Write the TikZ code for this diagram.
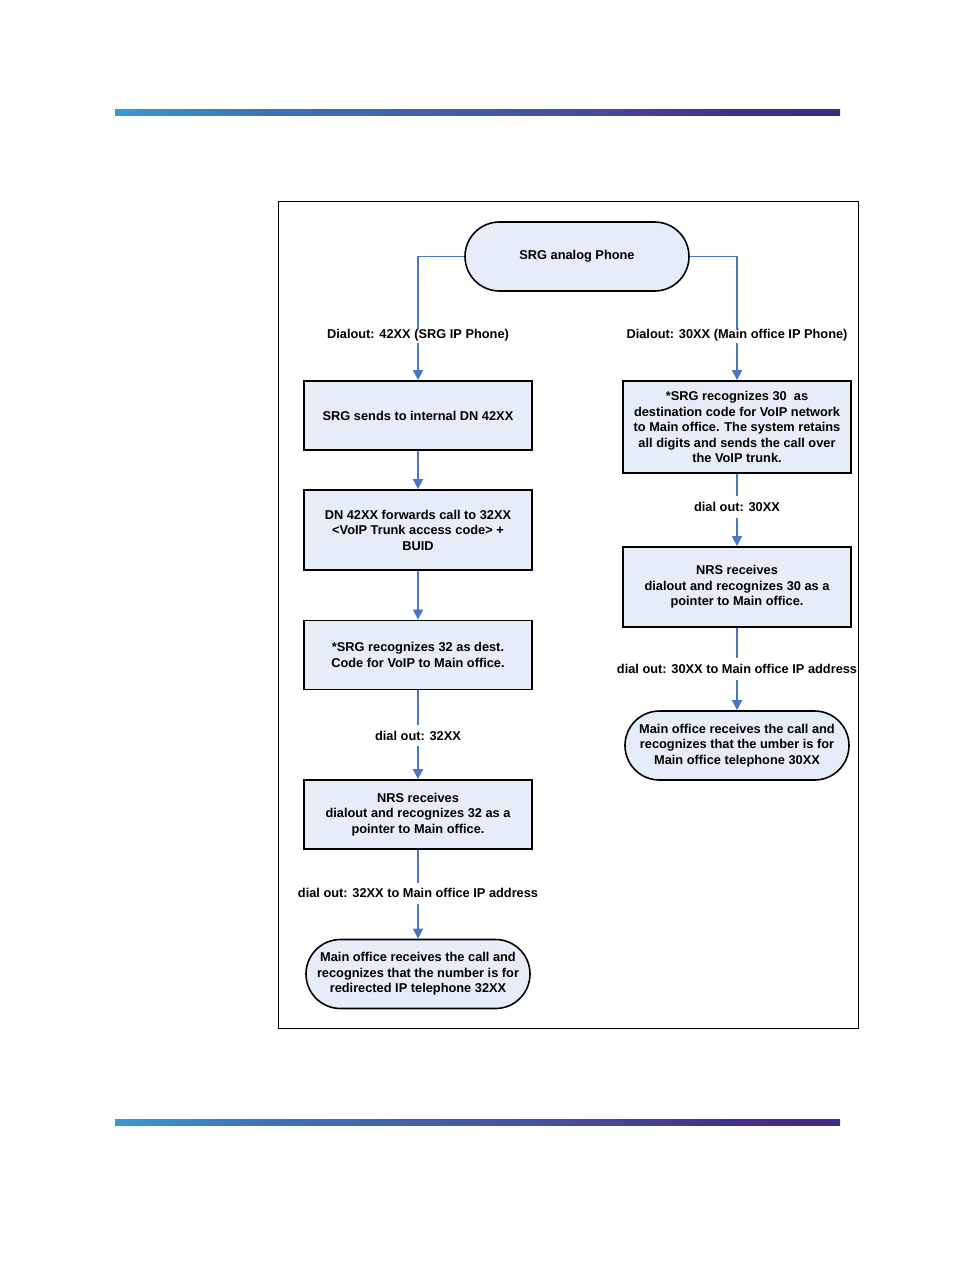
\documentclass[tikz,border=0pt]{standalone}
\usepackage{fontspec}
\setmainfont{Liberation Sans}
\usepackage{tikz}
\usetikzlibrary{arrows.meta,positioning,shapes.misc}
\definecolor{boxfill}{HTML}{E6ECF8}
\definecolor{flowblue}{HTML}{4A78C0}
\pgfdeclarehorizontalshading{kopfbalken}{100bp}{%
  color(0bp)=(rgb,255:red,95;green,190;blue,235);
  color(20bp)=(rgb,255:red,50;green,175;blue,225);
  color(35bp)=(rgb,255:red,60;green,115;blue,185);
  color(55bp)=(rgb,255:red,72;green,80;blue,160);
  color(68bp)=(rgb,255:red,68;green,45;blue,140);
  color(100bp)=(rgb,255:red,55;green,32;blue,100)}

\begin{document}
\begin{tikzpicture}[x=1pt, y=-1pt,
      every node/.style={font=\fontsize{12.8}{15.5}\selectfont\bfseries},
      procbox/.style={draw, line width=1.8pt, fill=boxfill, minimum width=228pt,
        minimum height=69pt, align=center, inner sep=2pt},
      termbox/.style={rounded rectangle, draw, line width=1.6pt, fill=boxfill,
        minimum width=228pt, minimum height=69pt, align=center, inner sep=2pt},
      flow/.style={draw=flowblue, line width=1.8pt, -{Triangle[width=10pt,length=10pt]}},
      lbl/.style={fill=white, inner xsep=1pt, inner ysep=6pt}
    ]
  \useasboundingbox (0,0) rectangle (954,1272);

  % --- Balken oben und unten ---
  \shade[shading=kopfbalken] (115,109) rectangle (840,115);
  \shade[shading=kopfbalken] (115,1119) rectangle (840,1125);

  % --- Rahmen ---
  \draw[line width=0.8pt] (278,201) rectangle (858,1028);

  % --- Start ---
  \node (start) [termbox] at (577,256.5) {SRG analog Phone};

  % --- Linke Spalte: 42XX ---
  \node (sendDN)  [procbox] at (418,415.5) {SRG sends to internal DN 42XX};
  \node (fwdDN)   [procbox, minimum height=80pt] at (418,530) {DN 42XX forwards call to 32XX\\\textless VoIP Trunk access code\textgreater\ +\\BUID};
  \node (recL)    [procbox] at (418,655) {*SRG recognizes 32 as dest.\\Code for VoIP to Main office.};
  \node (nrsL)    [procbox] at (418,814.5) {NRS receives\\dialout and recognizes 32 as a\\pointer to Main office.};
  \node (endL)    [termbox] at (418,974) {Main office receives the call and\\recognizes that the number is for\\redirected IP telephone 32XX};

  % --- Rechte Spalte: 30XX ---
  \node (recR)    [procbox, minimum height=92pt] at (737,427) {*SRG recognizes 30\ \ as\\destination code for VoIP network\\to Main office. The system retains\\all digits and sends the call over\\the VoIP trunk.};
  \node (nrsR)    [procbox, minimum height=80pt] at (737,587) {NRS receives\\dialout and recognizes 30 as a\\pointer to Main office.};
  \node (endR)    [termbox] at (737,745.5) {Main office receives the call and\\recognizes that the umber is for\\Main office telephone 30XX};

  % --- Verbindungen ---
  \draw[flow] (start.west) -| (sendDN.north);
  \draw[flow] (start.east) -| (recR.north);
  \draw[flow] (sendDN) -- (fwdDN);
  \draw[flow] (fwdDN) -- (recL);
  \draw[flow] (recL) -- (nrsL);
  \draw[flow] (nrsL) -- (endL);
  \draw[flow] (recR) -- (nrsR);
  \draw[flow] (nrsR) -- (endR);

  % Beschriftungen ueber den Pfeilen
  \path (start.west) -| (sendDN.north)
    node[lbl, inner ysep=1pt, pos=0.82] (dialL) {Dialout: 42XX (SRG IP Phone)};
  \path (start.east) -| (recR.north)
    node[lbl, inner ysep=1pt, pos=0.82] (dialR) {Dialout: 30XX (Main office IP Phone)};
  \path (recL) -- (nrsL) node[lbl, pos=0.51] (d32) {dial out: 32XX};
  \path (nrsL) -- (endL) node[lbl, pos=0.49] (ip32) {dial out: 32XX to Main office IP address};
  \path (recR) -- (nrsR) node[lbl, pos=0.46] (d30) {dial out: 30XX};
  \path (nrsR) -- (endR) node[lbl, pos=0.5] (ip30) {dial out: 30XX to Main office IP address};
\end{tikzpicture}
\end{document}
